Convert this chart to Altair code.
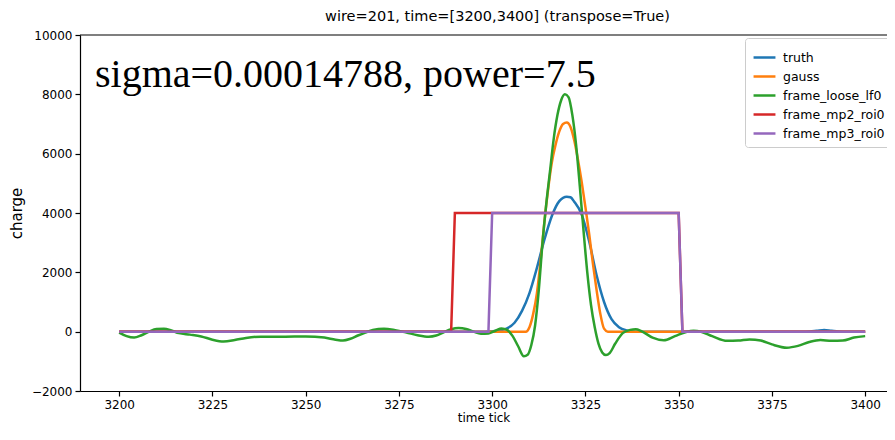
import altair as alt
import pandas as pd

series_names = ["truth", "gauss", "frame_loose_lf0", "frame_mp2_roi0", "frame_mp3_roi0"]
series_colors = ["#1f77b4", "#ff7f0e", "#2ca02c", "#d62728", "#9467bd"]
series_interp = ["monotone", "monotone", "monotone", "linear", "linear"]

truth_t = [3200, 3298, 3300, 3302, 3304, 3306, 3308, 3310, 3312, 3314, 3316, 3318, 3320, 3321,
           3322, 3324, 3326, 3328, 3330, 3332, 3334, 3336, 3338, 3340, 3384, 3387, 3389, 3391,
           3394, 3400]
truth_v = [0, 0, 10, 40, 110, 300, 700, 1300, 2150, 3100, 3900, 4400, 4550, 4530,
           4380, 3950, 3050, 1900, 1000, 420, 150, 40, 0, 0, 0, 30, 60, 30,
           0, 0]

gauss_t = [3200, 3309, 3310, 3311, 3312, 3313, 3314, 3315, 3316, 3317, 3318, 3319, 3320, 3321,
           3322, 3323, 3324, 3325, 3326, 3327, 3328, 3329, 3330, 3331, 3400]
gauss_v = [0, 0, 150, 600, 1300, 2400, 3700, 4800, 5700, 6300, 6750, 7000, 7050, 6900,
           6450, 5800, 5050, 4200, 3300, 2300, 1400, 600, 100, 0, 0]

loose_t = [3200, 3202, 3204, 3206, 3208, 3210, 3212, 3214, 3216, 3219, 3222, 3225, 3228, 3231,
           3234, 3238, 3244, 3250, 3255, 3258, 3260, 3262, 3264, 3266, 3268, 3271, 3274, 3277,
           3280, 3283, 3285, 3287, 3289, 3291, 3293, 3295, 3297, 3299, 3301, 3302.5, 3304,
           3305.5, 3307, 3308.5, 3309.5, 3310.5, 3311.5, 3312.5, 3313.5, 3314.5, 3315.5, 3316.5,
           3317.5, 3318.5, 3319.5, 3320.5, 3321.5, 3322.5, 3323.5, 3324.5, 3325.5, 3326.5,
           3327.5, 3328.5, 3329.5, 3330.5, 3331.5, 3333, 3335, 3337, 3338.5, 3340, 3343, 3346,
           3349, 3352, 3354, 3356, 3359, 3363, 3366, 3369, 3372, 3375, 3379, 3382, 3385, 3388,
           3391, 3394, 3397, 3400]
loose_v = [-30, -150, -200, -120, 0, 90, 100, 40, -50, -100, -160, -270, -330, -280,
           -210, -170, -170, -160, -200, -270, -300, -240, -130, -30, 60, 100, 50, -30,
           -120, -170, -130, -20, 80, 120, 90, 0, -70, -60, 40, 110, 60,
           -150, -500, -830, -780, -450, 200, 1400, 3000, 4300, 5400, 6500,
           7300, 7800, 8000, 7900, 7300, 6300, 4900, 3400, 2000, 900,
           150, -400, -700, -790, -720, -400, -50, 60, 80, 20, -200, -290,
           -150, -10, 30, 0, -150, -310, -300, -260, -300, -430, -540, -480, -350, -280,
           -310, -300, -200, -150]

mp2_t = [3200, 3289, 3290, 3350, 3351, 3400]
mp2_v = [0, 0, 4000, 4000, 0, 0]

mp3_t = [3200, 3299, 3300, 3350, 3351, 3400]
mp3_v = [0, 0, 4000, 4000, 0, 0]

x_ticks = [3200, 3225, 3250, 3275, 3300, 3325, 3350, 3375, 3400]
y_ticks = [-2000, 0, 2000, 4000, 6000, 8000, 10000]

chart_title = "wire=201, time=[3200,3400] (transpose=True)"
annotation = "sigma=0.00014788, power=7.5"

series_data = [(truth_t, truth_v), (gauss_t, gauss_v), (loose_t, loose_v),
               (mp2_t, mp2_v), (mp3_t, mp3_v)]
rows = []
for name, (ts, vs) in zip(series_names, series_data):
    for i, (t, v) in enumerate(zip(ts, vs)):
        rows.append({"series": name, "t": t, "v": v, "i": i})
df = pd.DataFrame(rows)

PLOT_W = 807
PLOT_H = 356
x_lo = 3189.5
x_hi = x_lo + PLOT_W / 3.73

x_enc = alt.X("t:Q", scale=alt.Scale(domain=[x_lo, x_hi], nice=False, zero=False),
              axis=alt.Axis(values=x_ticks, format="d", title="time tick", titlePadding=2,
                            titleFontSize=12))
y_enc = alt.Y("v:Q", scale=alt.Scale(domain=[-2000, 10000], nice=False),
              axis=alt.Axis(values=y_ticks, format="d", title="charge", titlePadding=7,
                            titleFontSize=15))
color_enc = alt.Color(
    "series:N",
    scale=alt.Scale(domain=series_names, range=series_colors),
    legend=alt.Legend(title=None, orient="none", legendX=665, legendY=3,
                      strokeColor="#cccccc", fillColor="white", padding=7, cornerRadius=3,
                      symbolType="stroke", symbolStrokeWidth=2.5, symbolSize=480,
                      labelFontSize=12.5, labelFont="DejaVu Sans", labelColor="black",
                      rowPadding=0, labelOffset=6),
)

layers = []
for name, interp in zip(series_names, series_interp):
    layers.append(
        alt.Chart(df).transform_filter(alt.datum.series == name)
        .mark_line(strokeWidth=2.5, interpolate=interp)
        .encode(x=x_enc, y=y_enc, color=color_enc, order="i:Q")
    )

top_spine = alt.Chart(pd.DataFrame({"v": [10000]})).mark_rule(color="black", strokeWidth=1.2).encode(
    y=alt.Y("v:Q")
)

text_layer = alt.Chart(pd.DataFrame({"label": [annotation]})).mark_text(
    font="Liberation Serif", fontSize=40, align="left", baseline="alphabetic", color="black"
).encode(text="label:N", x=alt.value(15), y=alt.value(52))

chart = alt.layer(*layers, top_spine, text_layer).properties(
    width=PLOT_W, height=PLOT_H,
    autosize=alt.AutoSizeParams(type="none"),
    padding={"left": 72, "top": 27, "right": 0, "bottom": 34},
    title=alt.Title(chart_title, fontSize=14.5, font="DejaVu Sans", fontWeight="normal",
                    color="black", offset=5, dx=14),
).configure_view(stroke=None).configure_axis(
    domainColor="black", tickColor="black", labelColor="black", titleColor="black",
    labelFont="DejaVu Sans", titleFont="DejaVu Sans", labelFontSize=12,
    titleFontWeight="normal", grid=False, tickSize=5, labelPadding=3, domainWidth=1.2,
    tickWidth=1.2,
)

chart.save("out.html", embed_options={"renderer": "svg", "actions": False})
